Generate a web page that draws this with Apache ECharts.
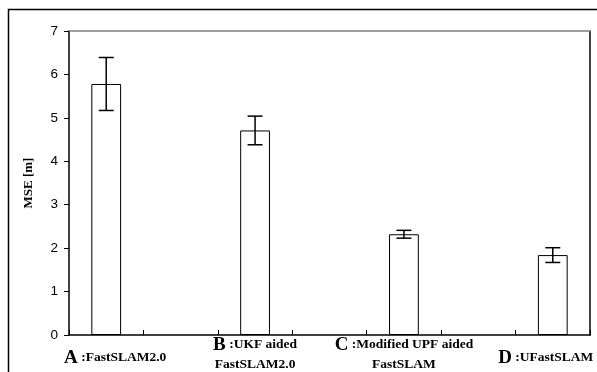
<!DOCTYPE html>
<html>
<head>
<meta charset="utf-8">
<script src="https://cdn.jsdelivr.net/npm/echarts@6/dist/echarts.min.js"></script>
<style>
  html, body { margin: 0; padding: 0; background: #fff; }
  #chart { width: 597px; height: 372px; }
</style>
</head>
<body>
<div id="chart"></div>
<script>
// Seven slots along x; methods occupy every other slot
const categories = ['A', '', 'B', '', 'C', '', 'D'];
const methodNames = {
  A: ['FastSLAM2.0'],
  B: ['UKF aided', 'FastSLAM2.0'],
  C: ['Modified UPF aided', 'FastSLAM'],
  D: ['UFastSLAM']
};
const mseValues = [5.78, null, 4.71, null, 2.32, null, 1.84];
const mseErrors = [0.61, null, 0.33, null, 0.09, null, 0.17];
const yTicks = [0, 1, 2, 3, 4, 5, 6, 7];

const chart = echarts.init(document.getElementById('chart'));

function labelFormatter(value) {
  const lines = methodNames[value];
  if (!lines) return '';
  if (lines.length === 1) {
    // single-line names sit a little off the slot centre
    if (value === 'A') {
      return '{padL|}{bigOne|' + value + '}{smallOne| :' + lines[0] + '}';
    }
    return '{bigOne|' + value + '}{smallOne| :' + lines[0] + '}{padR|}';
  }
  return '{big|' + value + '}{small| :' + lines[0] + '}\n{small|' + lines[1] + '}';
}

const serif = '"Liberation Serif", "Times New Roman", serif';
const labelFont = 13.5;

chart.setOption({
  animation: false,
  backgroundColor: '#fff',
  graphic: [{
    type: 'rect',
    shape: { x: 8.5, y: 9.5, width: 620, height: 400 },
    style: { fill: null, stroke: '#000', lineWidth: 1.5 },
    silent: true
  }],
  grid: { left: 69, right: 7, top: 31, bottom: 37, containLabel: false, outerBoundsMode: 'none' },
  xAxis: [{
    type: 'category',
    data: categories,
    axisLine: { onZero: false, lineStyle: { color: '#000', width: 1.5 } },
    axisTick: { show: true, inside: true, length: 5, lineStyle: { color: '#000' } },
    axisLabel: {
      interval: 0,
      margin: 0,
      hideOverlap: false,
      formatter: labelFormatter,
      rich: {
        big: { fontFamily: serif, fontWeight: 'bold', fontSize: 19, color: '#000', lineHeight: 20 },
        small: { fontFamily: serif, fontWeight: 'bold', fontSize: labelFont, color: '#000', lineHeight: 20 },
        bigOne: { fontFamily: serif, fontWeight: 'bold', fontSize: 19, color: '#000', lineHeight: 46 },
        smallOne: { fontFamily: serif, fontWeight: 'bold', fontSize: labelFont, color: '#000', lineHeight: 46 },
        padL: { width: 18 },
        padR: { width: 14 }
      }
    }
  }, {
    type: 'category',
    data: categories,
    position: 'top',
    axisLine: { onZero: false, lineStyle: { color: '#808080', width: 1.5 } },
    axisTick: { show: false },
    axisLabel: { show: false }
  }],
  yAxis: [{
    type: 'value',
    min: yTicks[0],
    max: yTicks[yTicks.length - 1],
    interval: 1,
    name: 'MSE [m]',
    nameLocation: 'middle',
    nameGap: 34,
    nameTextStyle: { fontFamily: serif, fontWeight: 'bold', fontSize: 13, color: '#000' },
    axisLine: { show: true, onZero: false, lineStyle: { color: '#000', width: 1.5 } },
    axisTick: { show: true, length: 5, lineStyle: { color: '#000' } },
    axisLabel: { margin: 11, fontFamily: '"Liberation Sans", Arial, sans-serif', fontSize: 13.5, color: '#000' },
    splitLine: { show: false }
  }, {
    type: 'value',
    min: yTicks[0],
    max: yTicks[yTicks.length - 1],
    interval: 1,
    position: 'right',
    axisLine: { show: true, onZero: false, lineStyle: { color: '#000', width: 1.5 } },
    axisTick: { show: false },
    axisLabel: { show: false },
    splitLine: { show: false }
  }],
  series: [{
    type: 'bar',
    data: mseValues,
    barWidth: '40%',
    itemStyle: { color: '#fff', borderColor: '#000', borderWidth: 1 },
    z: 2
  }, {
    type: 'custom',
    data: mseValues.map((v, i) => v == null ? null : [i, v - mseErrors[i], v + mseErrors[i]]).filter(d => d),
    renderItem: function (params, api) {
      const lo = api.coord([api.value(0), api.value(1)]);
      const hi = api.coord([api.value(0), api.value(2)]);
      const half = 7.5;
      const st = { stroke: '#000', lineWidth: 1.5 };
      return {
        type: 'group',
        children: [
          { type: 'line', shape: { x1: hi[0], y1: hi[1], x2: lo[0], y2: lo[1] }, style: st },
          { type: 'line', shape: { x1: hi[0] - half, y1: hi[1], x2: hi[0] + half, y2: hi[1] }, style: st },
          { type: 'line', shape: { x1: lo[0] - half, y1: lo[1], x2: lo[0] + half, y2: lo[1] }, style: st }
        ]
      };
    },
    z: 3
  }]
});
</script>
</body>
</html>
